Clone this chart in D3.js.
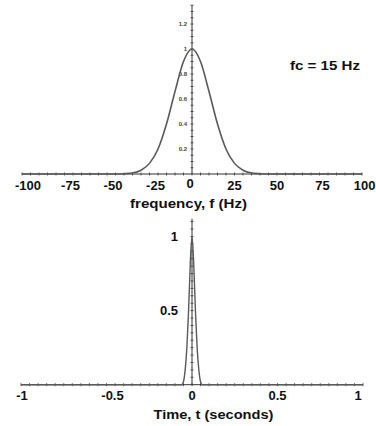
<!DOCTYPE html>
<html><head><meta charset="utf-8">
<script src="https://cdn.jsdelivr.net/npm/d3@7"></script>
<style>
html,body{margin:0;padding:0;background:#fff;}
svg{display:block;}
text{font-family:"Liberation Sans",Arial,sans-serif;font-weight:bold;fill:#111;}
</style></head>
<body>
<script>
// ---- data ----
const freq = [-100,-45,-40,-35,-30,-25,-20,-15,-10,-5,0,5,10,15,20,25,30,35,40,45,100];
const spectrum = [0,0,0.002,0.008,0.03,0.085,0.2,0.4,0.66,0.9,1,0.9,0.66,0.4,0.2,0.085,0.03,0.008,0.002,0,0];
const freqTicks = [-100,-75,-50,-25,0,25,50,75,100];
const specTicks = [0.2,0.4,0.6,0.8,1,1.2];

const time = [-1,-0.07,-0.06,-0.05,-0.04,-0.03,-0.02,-0.01,0,0.01,0.02,0.03,0.04,0.05,0.06,0.07,1];
const pulse = [0,0,0,0.02,0.1,0.25,0.5,0.82,1,0.82,0.5,0.25,0.1,0.02,0,0,0];
const timeTicks = [-1,-0.5,0,0.5,1];
const pulseTicks = [0.5,1];

const fcLabel = "fc = 15 Hz";
const topXLabel = "frequency, f (Hz)";
const botXLabel = "Time, t (seconds)";

const W = 376, H = 426;
const svg = d3.select("body").append("svg").attr("width", W).attr("height", H);
svg.append("rect").attr("width", W).attr("height", H).attr("fill", "#fff");

const axisColor = "#333", curveColor = "#5a5a5a";

// ---------- top chart ----------
const xF = d3.scaleLinear().domain([-100,100]).range([22,362]);
const yF = d3.scaleLinear().domain([0,1]).range([174,49]);
const gTop = svg.append("g");

gTop.append("line").attr("x1", xF(-100)).attr("x2", xF(100)).attr("y1", yF(0)).attr("y2", yF(0))
  .attr("stroke", axisColor).attr("stroke-width", 1);
gTop.selectAll("line.xm").data(d3.range(-100, 100.01, 5)).join("line").attr("class","xm")
  .attr("x1", d=>xF(d)).attr("x2", d=>xF(d)).attr("y1", yF(0)-1.5).attr("y2", yF(0)+1.5)
  .attr("stroke", axisColor).attr("stroke-width", 0.8);
gTop.append("line").attr("x1", xF(0)).attr("x2", xF(0)).attr("y1", yF(1.35)).attr("y2", yF(0))
  .attr("stroke", axisColor).attr("stroke-width", 1);
gTop.selectAll("line.ym").data(d3.range(0.05, 1.351, 0.05)).join("line").attr("class","ym")
  .attr("x1", xF(0)-1.5).attr("x2", xF(0)+1.5).attr("y1", d=>yF(d)).attr("y2", d=>yF(d))
  .attr("stroke", axisColor).attr("stroke-width", 0.8);

const fOff = d => d < 0 ? 6 : (d === 0 ? -2 : (d === 75 ? 3 : 0));
gTop.selectAll("text.xt").data(freqTicks).join("text").attr("class","xt")
  .attr("x", d => d === 100 ? 375.5 : xF(d) + fOff(d))
  .attr("y", d => d === 0 ? 188 : 190)
  .attr("text-anchor", d => d === 100 ? "end" : "middle").attr("font-size", 13)
  .text(d => String(d));
gTop.selectAll("text.yt").data(specTicks).join("text").attr("class","yt")
  .attr("x", 187).attr("y", d => yF(d) + 2)
  .attr("text-anchor","end").attr("font-size", 6).style("fill","#444")
  .text(d => String(d));

const lineF = d3.line().x((d,i)=>xF(freq[i])).y(d=>yF(d)).curve(d3.curveMonotoneX);
gTop.append("path").attr("d", lineF(spectrum)).attr("fill","none")
  .attr("stroke", curveColor).attr("stroke-width", 1.6);

gTop.append("text").attr("x", 325).attr("y", 70).attr("text-anchor","middle")
  .attr("font-size", 12).attr("textLength", 70).attr("lengthAdjust","spacingAndGlyphs").text(fcLabel);
gTop.append("text").attr("x", 188.5).attr("y", 208).attr("text-anchor","middle")
  .attr("font-size", 13).attr("textLength", 117).attr("lengthAdjust","spacingAndGlyphs").text(topXLabel);

// ---------- bottom chart ----------
const xT = d3.scaleLinear().domain([-1,1]).range([21,363]);
const yT = d3.scaleLinear().domain([0,1]).range([384.7,236.5]);
const gBot = svg.append("g");

gBot.append("line").attr("x1", xT(-1)).attr("x2", xT(1)).attr("y1", yT(0)).attr("y2", yT(0))
  .attr("stroke", axisColor).attr("stroke-width", 1);
gBot.selectAll("line.xm").data(d3.range(-1, 1.001, 0.05)).join("line").attr("class","xm")
  .attr("x1", d=>xT(d)).attr("x2", d=>xT(d)).attr("y1", yT(0)-1.5).attr("y2", yT(0)+1.5)
  .attr("stroke", axisColor).attr("stroke-width", 0.8);
gBot.append("line").attr("x1", xT(0)).attr("x2", xT(0)).attr("y1", yT(1.12)).attr("y2", yT(0))
  .attr("stroke", axisColor).attr("stroke-width", 1);
gBot.selectAll("line.ym").data(d3.range(0.05, 1.121, 0.05)).join("line").attr("class","ym")
  .attr("x1", xT(0)-1.5).attr("x2", xT(0)+1.5).attr("y1", d=>yT(d)).attr("y2", d=>yT(d))
  .attr("stroke", axisColor).attr("stroke-width", 0.8);

const tOff = d => d === -1 ? 1 : (d === -0.5 ? 6 : (d === 1 ? -5 : 0));
gBot.selectAll("text.xt").data(timeTicks).join("text").attr("class","xt")
  .attr("x", d => xT(d) + tOff(d)).attr("y", 400)
  .attr("text-anchor","middle").attr("font-size", 13)
  .text(d => String(d));
gBot.selectAll("text.yt").data(pulseTicks).join("text").attr("class","yt")
  .attr("x", 178).attr("y", d => yT(d) + 4.5)
  .attr("text-anchor","end").attr("font-size", 13)
  .text(d => String(d));

const lineT = d3.line().x((d,i)=>xT(time[i])).y(d=>yT(d)).curve(d3.curveMonotoneX);
gBot.append("path").attr("d", lineT(pulse)).attr("fill","none")
  .attr("stroke", curveColor).attr("stroke-width", 1.4);

gBot.append("text").attr("x", 213.5).attr("y", 419).attr("text-anchor","middle")
  .attr("font-size", 13).attr("textLength", 120).attr("lengthAdjust","spacingAndGlyphs").text(botXLabel);
</script>
</body></html>
